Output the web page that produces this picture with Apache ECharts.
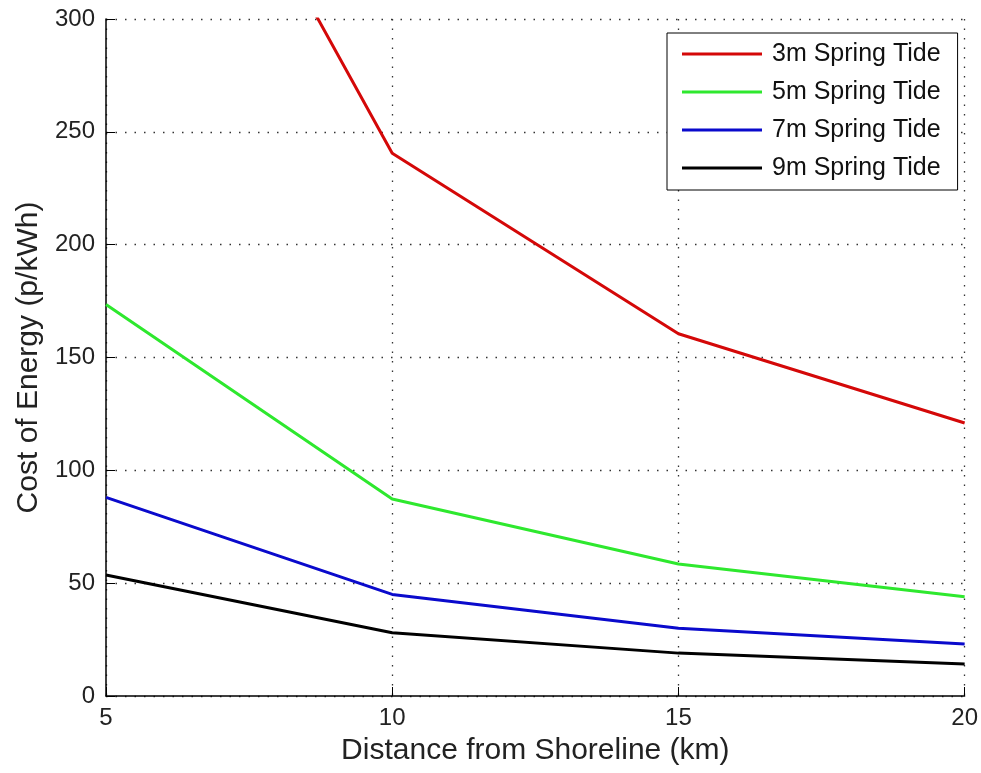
<!DOCTYPE html>
<html>
<head>
<meta charset="utf-8">
<script src="https://cdn.jsdelivr.net/npm/echarts@6/dist/echarts.min.js"></script>
<style>html,body{margin:0;padding:0;background:#fff}#c{width:981px;height:773px}</style>
</head>
<body>
<div id="c"></div>
<script>
var distances = [5, 10, 15, 20];
var xTicks = [5, 10, 15, 20];
var yTicks = [0, 50, 100, 150, 200, 250, 300];
var tide3m = [470, 240.5, 160.5, 121];
var tide5m = [173.5, 87.3, 58.5, 44];
var tide7m = [88, 45, 30, 23];
var tide9m = [53.6, 28, 19, 14.2];
var seriesNames = ['3m Spring Tide', '5m Spring Tide', '7m Spring Tide', '9m Spring Tide'];
var seriesColors = ['#d40808', '#2ee82e', '#0a0acc', '#000000'];
var allSeries = [tide3m, tide5m, tide7m, tide9m];

var font = 'Liberation Sans, Arial, sans-serif';
var chart = echarts.init(document.getElementById('c'), null, {renderer: 'canvas'});
chart.setOption({
  backgroundColor: '#ffffff',
  animation: false,
  textStyle: {fontFamily: font},
  grid: {left: 106, right: 14, top: 19, bottom: 77, containLabel: false},
  legend: {
    orient: 'vertical',
    left: 667, top: 33,
    padding: [7, 17, 8, 15],
    backgroundColor: '#ffffff',
    borderColor: '#000000',
    borderWidth: 1,
    borderRadius: 0,
    itemWidth: 80,
    itemHeight: 3,
    itemGap: 10,
    icon: 'rect',
    textStyle: {fontFamily: font, fontSize: 25, color: '#111', lineHeight: 28, padding: [0, 0, 0, 5]},
    data: seriesNames
  },
  xAxis: {
    type: 'value',
    min: xTicks[0], max: xTicks[xTicks.length - 1], interval: 5,
    name: 'Distance from Shoreline (km)',
    nameLocation: 'middle', nameGap: 40,
    nameTextStyle: {fontFamily: font, fontSize: 30, color: '#222'},
    axisLine: {show: true, onZero: false, lineStyle: {color: '#000', width: 1.5}},
    axisTick: {show: true, inside: true, length: 9, lineStyle: {color: '#000', width: 1}},
    axisLabel: {fontFamily: font, fontSize: 24, color: '#222', margin: 10},
    splitLine: {show: true, lineStyle: {color: '#333', width: 1.3, type: [1.5, 8]}}
  },
  yAxis: {
    type: 'value',
    min: yTicks[0], max: yTicks[yTicks.length - 1], interval: 50,
    name: 'Cost of Energy (p/kWh)',
    nameLocation: 'middle', nameGap: 62,
    nameTextStyle: {fontFamily: font, fontSize: 30, color: '#222'},
    axisLine: {show: true, lineStyle: {color: '#000', width: 1.5}},
    axisTick: {show: true, inside: true, length: 9, lineStyle: {color: '#000', width: 1}},
    axisLabel: {fontFamily: font, fontSize: 24, color: '#222', margin: 11},
    splitLine: {show: true, lineStyle: {color: '#333', width: 1.3, type: [1.5, 8]}}
  },
  series: allSeries.map(function (vals, i) {
    return {
      name: seriesNames[i],
      type: 'line',
      clip: true,
      symbol: 'none',
      data: distances.map(function (d, j) { return [d, vals[j]]; }),
      lineStyle: {color: seriesColors[i], width: 3},
      itemStyle: {color: seriesColors[i]}
    };
  })
});
</script>
</body>
</html>
